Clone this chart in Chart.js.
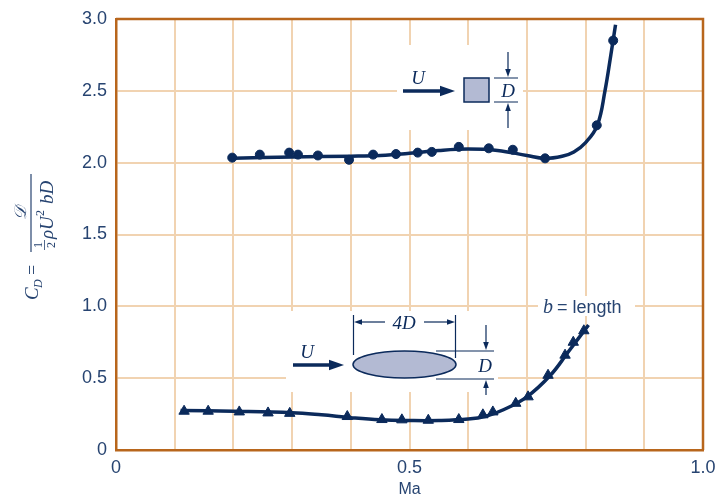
<!DOCTYPE html>
<html>
<head>
<meta charset="utf-8">
<script src="https://cdn.jsdelivr.net/npm/chart.js@4"></script>
<style>
  html, body { margin: 0; padding: 0; background: #fff; }
  #wrap { width: 715px; height: 496px; }
</style>
</head>
<body>
<div id="wrap"><canvas id="dragChart" width="715" height="496"></canvas></div>
<script>
// square cylinder, measured points
const maSquare = [0.198, 0.245, 0.295, 0.31, 0.344, 0.397, 0.438, 0.477, 0.514, 0.538, 0.584, 0.635, 0.676, 0.731, 0.819, 0.847]
const cdSquare = [2.035, 2.056, 2.07, 2.056, 2.05, 2.02, 2.056, 2.06, 2.07, 2.075, 2.11, 2.10, 2.09, 2.03, 2.26, 2.85]
// square cylinder, faired curve
const maSquareCurve = [0.2, 0.3, 0.4, 0.45, 0.5, 0.55, 0.6, 0.65, 0.7, 0.73, 0.76, 0.78, 0.8, 0.82, 0.833, 0.843, 0.851]
const cdSquareCurve = [2.03, 2.04, 2.045, 2.05, 2.065, 2.085, 2.095, 2.085, 2.05, 2.03, 2.045, 2.075, 2.14, 2.26, 2.5, 2.75, 2.96]

// elliptical cylinder, measured points
const maEllipse = [0.116, 0.157, 0.21, 0.259, 0.296, 0.394, 0.453, 0.487, 0.532, 0.584, 0.625, 0.642, 0.681, 0.702, 0.736, 0.765, 0.779, 0.797]
const cdEllipse = [0.27, 0.27, 0.265, 0.258, 0.255, 0.233, 0.212, 0.21, 0.207, 0.212, 0.245, 0.265, 0.325, 0.37, 0.52, 0.66, 0.75, 0.83]
// elliptical cylinder, faired curve
const maEllipseCurve = [0.11, 0.2, 0.3, 0.35, 0.4, 0.45, 0.5, 0.55, 0.6, 0.63, 0.66, 0.7, 0.74, 0.77, 0.805]
const cdEllipseCurve = [0.275, 0.27, 0.26, 0.245, 0.225, 0.21, 0.205, 0.205, 0.215, 0.235, 0.28, 0.37, 0.52, 0.68, 0.87]

const xTicks = ['0', '0.5', '1.0']
const yTicks = ['0', '0.5', '1.0', '1.5', '2.0', '2.5', '3.0']

const NAVY = '#0b2a5b'
const TEXT = '#274471'
const GRID = '#f1d3b1'
const FRAME = '#b8661c'
const FILL = '#b3bad3'

function toPoints(xs, ys) {
  return xs.map((x, i) => ({x: x, y: ys[i]}))
}

function arrowLine(ctx, x1, y1, x2, y2, head, width) {
  // line from (x1,y1) with a filled head at (x2,y2)
  const ang = Math.atan2(y2 - y1, x2 - x1)
  ctx.lineWidth = width
  ctx.beginPath()
  ctx.moveTo(x1, y1)
  ctx.lineTo(x2 - Math.cos(ang) * head * 0.8, y2 - Math.sin(ang) * head * 0.8)
  ctx.stroke()
  ctx.beginPath()
  ctx.moveTo(x2, y2)
  ctx.lineTo(x2 - Math.cos(ang) * head - Math.sin(ang) * head * 0.35, y2 - Math.sin(ang) * head + Math.cos(ang) * head * 0.35)
  ctx.lineTo(x2 - Math.cos(ang) * head + Math.sin(ang) * head * 0.35, y2 - Math.sin(ang) * head - Math.cos(ang) * head * 0.35)
  ctx.closePath()
  ctx.fill()
}

// white boxes behind the sketches, frame, sketches and the y title
const sketchPlugin = {
  id: 'sketches',
  beforeDatasetsDraw(chart) {
    const ctx = chart.ctx
    const a = chart.chartArea
    ctx.save()
    ctx.fillStyle = '#fff'
    ctx.fillRect(397, 45, 126, 85)
    ctx.fillRect(286, 311, 212, 81)
    ctx.fillRect(538, 296, 97, 20)
    // frame on top and right
    ctx.strokeStyle = FRAME
    ctx.lineWidth = 2.5
    ctx.beginPath()
    ctx.moveTo(a.left, a.top)
    ctx.lineTo(a.right, a.top)
    ctx.lineTo(a.right, a.bottom)
    ctx.stroke()
    ctx.restore()
  },
  afterDatasetsDraw(chart) {
    const ctx = chart.ctx
    ctx.save()
    ctx.strokeStyle = NAVY
    ctx.fillStyle = NAVY

    // square section
    arrowLine(ctx, 403, 91, 455, 91, 15, 3.5)
    ctx.font = 'italic 19px "Liberation Serif"'
    ctx.textAlign = 'center'
    ctx.textBaseline = 'alphabetic'
    ctx.fillText('U', 418, 84)
    ctx.fillStyle = FILL
    ctx.fillRect(464, 78, 25, 24)
    ctx.lineWidth = 1.5
    ctx.strokeRect(464, 78, 25, 24)
    ctx.fillStyle = NAVY
    ctx.lineWidth = 1.2
    ctx.beginPath()
    ctx.moveTo(494, 78); ctx.lineTo(518, 78)
    ctx.moveTo(494, 102); ctx.lineTo(518, 102)
    ctx.stroke()
    arrowLine(ctx, 508, 52, 508, 77, 8, 1.2)
    arrowLine(ctx, 508, 128, 508, 103, 8, 1.2)
    ctx.fillText('D', 508, 97)

    // elliptical section
    arrowLine(ctx, 293, 365, 344, 365, 15, 3.5)
    ctx.fillText('U', 307, 358)
    ctx.beginPath()
    ctx.ellipse(404.5, 364.5, 51.5, 13.5, 0, 0, Math.PI * 2)
    ctx.fillStyle = FILL
    ctx.fill()
    ctx.lineWidth = 1.5
    ctx.stroke()
    ctx.fillStyle = NAVY
    ctx.lineWidth = 1.2
    ctx.beginPath()
    ctx.moveTo(353.5, 315); ctx.lineTo(353.5, 355)
    ctx.moveTo(455.5, 315); ctx.lineTo(455.5, 358)
    ctx.moveTo(436, 351); ctx.lineTo(494, 351)
    ctx.moveTo(436, 379); ctx.lineTo(494, 379)
    ctx.stroke()
    arrowLine(ctx, 385, 322, 354, 322, 8, 1.2)
    arrowLine(ctx, 424, 322, 455, 322, 8, 1.2)
    ctx.fillText('4D', 404, 329)
    arrowLine(ctx, 486, 325, 486, 350, 8, 1.2)
    arrowLine(ctx, 486, 395, 486, 380, 8, 1.2)
    ctx.fillText('D', 485, 372)

    // b = length
    ctx.textAlign = 'left'
    ctx.fillStyle = TEXT
    ctx.font = 'italic 20px "Liberation Serif"'
    ctx.fillText('b', 543, 313)
    ctx.font = '18px "Liberation Sans"'
    ctx.fillText('= length', 557, 313)
    ctx.restore()
  },
  afterDraw(chart) {
    const ctx = chart.ctx
    ctx.save()
    ctx.translate(31, 230)
    ctx.rotate(-Math.PI / 2)
    ctx.fillStyle = TEXT
    ctx.strokeStyle = TEXT
    ctx.textBaseline = 'alphabetic'
    ctx.textAlign = 'left'
    // C_D =
    ctx.font = 'italic 19px "Liberation Serif"'
    ctx.fillText('C', -70, 7)
    ctx.font = 'italic 12px "Liberation Serif"'
    ctx.fillText('D', -58, 11)
    ctx.font = '18px "Liberation Serif"'
    ctx.fillText('=', -45, 7)
    // fraction bar
    ctx.lineWidth = 1.2
    ctx.beginPath()
    ctx.moveTo(-22, 0)
    ctx.lineTo(56, 0)
    ctx.stroke()
    // numerator
    ctx.font = 'italic 17px "DejaVu Serif"'
    ctx.textAlign = 'center'
    ctx.fillText('𝒟', 17, -5)
    // denominator
    ctx.font = '12px "Liberation Serif"'
    ctx.fillText('1', -15, 11)
    ctx.fillText('2', -15, 24)
    ctx.beginPath()
    ctx.moveTo(-20, 13.5)
    ctx.lineTo(-10, 13.5)
    ctx.lineWidth = 0.8
    ctx.stroke()
    ctx.textAlign = 'left'
    ctx.font = 'italic 19px "Liberation Serif"'
    ctx.fillText('ρU', -9, 22)
    ctx.font = '12px "Liberation Serif"'
    ctx.fillText('2', 14, 13)
    ctx.font = 'italic 19px "Liberation Serif"'
    ctx.fillText('bD', 26, 22)
    ctx.restore()
  }
}

const dragChart = new Chart(document.getElementById('dragChart'), {
  type: 'scatter',
  data: {
    datasets: [
      {
        type: 'line',
        label: 'square curve',
        data: toPoints(maSquareCurve, cdSquareCurve),
        borderColor: NAVY,
        borderWidth: 3.5,
        pointRadius: 0,
        tension: 0.4,
        fill: false
      },
      {
        label: 'square',
        data: toPoints(maSquare, cdSquare),
        backgroundColor: NAVY,
        borderColor: NAVY,
        pointStyle: 'circle',
        pointRadius: 4.5
      },
      {
        type: 'line',
        label: 'ellipse curve',
        data: toPoints(maEllipseCurve, cdEllipseCurve),
        borderColor: NAVY,
        borderWidth: 3.5,
        pointRadius: 0,
        tension: 0.4,
        fill: false
      },
      {
        label: 'ellipse',
        data: toPoints(maEllipse, cdEllipse),
        backgroundColor: NAVY,
        borderColor: NAVY,
        pointStyle: 'triangle',
        pointRadius: 6
      }
    ]
  },
  options: {
    responsive: false,
    animation: false,
    layout: { padding: { top: 19, right: 12, left: 0, bottom: 0 } },
    plugins: {
      legend: { display: false },
      tooltip: { enabled: false }
    },
    scales: {
      x: {
        type: 'linear',
        min: 0,
        max: 1.0,
        afterFit: function(scale) {
          scale.height = 46
          scale.paddingLeft = 0
          scale.paddingRight = 0
        },
        grid: { color: GRID, lineWidth: 2, drawTicks: false },
        border: { color: FRAME, width: 2.5 },
        ticks: {
          stepSize: 0.1,
          padding: 7,
          color: TEXT,
          font: { family: 'Liberation Sans', size: 18 },
          maxRotation: 0,
          autoSkip: false,
          callback: function(value) {
            const k = Math.round(value * 2)
            if (Math.abs(value * 2 - k) > 1e-6) return ''
            return xTicks[k]
          }
        },
        title: {
          display: true,
          text: 'Ma',
          color: TEXT,
          font: { family: 'Liberation Sans', size: 16 },
          padding: { top: 0, bottom: -3 }
        }
      },
      y: {
        type: 'linear',
        min: 0,
        max: 3.0,
        afterFit: function(scale) {
          scale.width = 116
          scale.paddingTop = 0
          scale.paddingBottom = 0
        },
        grid: { color: GRID, lineWidth: 2, drawTicks: false },
        border: { color: FRAME, width: 2.5 },
        ticks: {
          stepSize: 0.5,
          padding: 9,
          color: TEXT,
          font: { family: 'Liberation Sans', size: 18 },
          callback: function(value) {
            return yTicks[Math.round(value * 2)]
          }
        }
      }
    }
  },
  plugins: [sketchPlugin]
})
</script>
</body>
</html>
